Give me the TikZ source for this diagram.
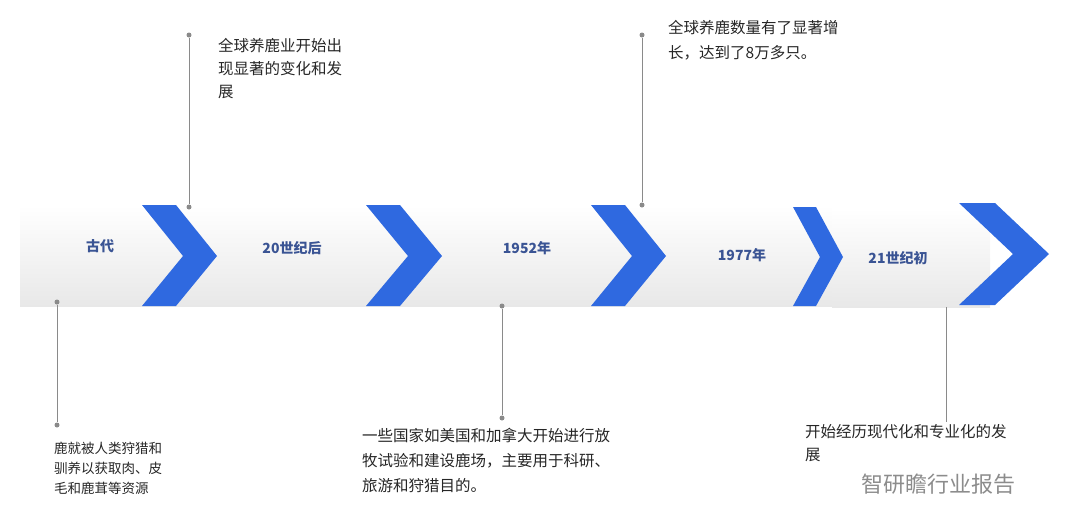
\documentclass[tikz,border=0pt]{standalone}
\usepackage{fontspec}
\setmainfont{Liberation Serif}
\newfontfamily\cjk{Noto Sans CJK SC}
\usetikzlibrary{positioning}
\definecolor{chevblue}{HTML}{2F69E0}
\definecolor{labblue}{HTML}{3A5494}
\definecolor{pingray}{HTML}{8A8A8A}
\begin{document}
\begin{tikzpicture}[x=1pt,y=-1pt,
  band/.style={top color=white, bottom color=black!9, draw=none},
  chev/.style={fill=chevblue, draw=none},
  stage/.style={font=\cjk\bfseries\fontsize{14}{16}\selectfont, text=labblue},
  pin/.style={draw=pingray, line width=0.9pt},
  pindot/.style={circle, fill=pingray, inner sep=0pt, minimum size=5pt},
  note/.style={font=\cjk\fontsize{14}{22}\selectfont, text=black!85, align=left, anchor=north west, inner sep=0pt}]
  \useasboundingbox (0,0) rectangle (1080,531);
  % band
  \shade[band] (20,205) rectangle (832,306);
  \shade[band] (832,208) rectangle (990,307);
  % chevrons
  \fill[chev] (142,205) -- (176,205) -- (217,256) -- (176,306) -- (142,306) -- (183,256) -- cycle;
  \fill[chev] (366,205) -- (400,205) -- (442,256) -- (400,306) -- (366,306) -- (408,256) -- cycle;
  \fill[chev] (591,205) -- (625,205) -- (666,256) -- (625,306) -- (591,306) -- (632,256) -- cycle;
  \fill[chev] (793,207) -- (816,207) -- (843,257) -- (816,306) -- (793,306) -- (820,257) -- cycle;
  \fill[chev] (959,203) -- (995,203) -- (1049,254) -- (995,305) -- (959,305) -- (1013,254) -- cycle;
  % stage labels
  \node[stage] (s1) at (100,246) {古代};
  \node[stage] (s2) at (292,248) {20世纪后};
  \node[stage] (s3) at (527,248) {1952年};
  \node[stage] (s4) at (742,255) {1977年};
  \node[stage] (s5) at (898,258) {21世纪初};
  % pins
  \node[pindot] (p1a) at (57,302) {};
  \node[pindot] (p1b) at (57,425) {};
  \node[pindot] (p2a) at (189,207) {};
  \node[pindot] (p2b) at (189,35) {};
  \node[pindot] (p3a) at (502,306) {};
  \node[pindot] (p3b) at (502,418) {};
  \node[pindot] (p4a) at (642,205) {};
  \node[pindot] (p4b) at (642,35) {};
  \coordinate (p5a) at (946,307);
  \coordinate (p5b) at (946,422);
  \draw[pin] (p1a) -- (p1b);
  \draw[pin] (p2a) -- (p2b);
  \draw[pin] (p3a) -- (p3b);
  \draw[pin] (p4a) -- (p4b);
  \draw[pin] (p5a) -- (p5b);
  % notes
  \node[note, font=\cjk\fontsize{13.5}{20}\selectfont] (n1) at (54,442) {鹿就被人类狩猎和\\驯养以获取肉、皮\\毛和鹿茸等资源};
  \node[note, font=\cjk\fontsize{15.5}{23}\selectfont] (n2) at (218,38) {全球养鹿业开始出\\现显著的变化和发\\展};
  \node[note, font=\cjk\fontsize{15.5}{25}\selectfont] (n3) at (362,428) {一些国家如美国和加拿大开始进行放\\牧试验和建设鹿场，主要用于科研、\\旅游和狩猎目的。};
  \node[note, font=\cjk\fontsize{15.5}{25}\selectfont] (n4) at (668,20) {全球养鹿数量有了显著增\\长，达到了8万多只。};
  \node[note, font=\cjk\fontsize{15.5}{23}\selectfont] (n5) at (805,424) {开始经历现代化和专业化的发\\展};
  % watermark
  \node[font=\cjk\fontsize{22}{24}\selectfont, text=black!45, anchor=west] (wm) at (858,484) {智研瞻行业报告};
\end{tikzpicture}
\end{document}
